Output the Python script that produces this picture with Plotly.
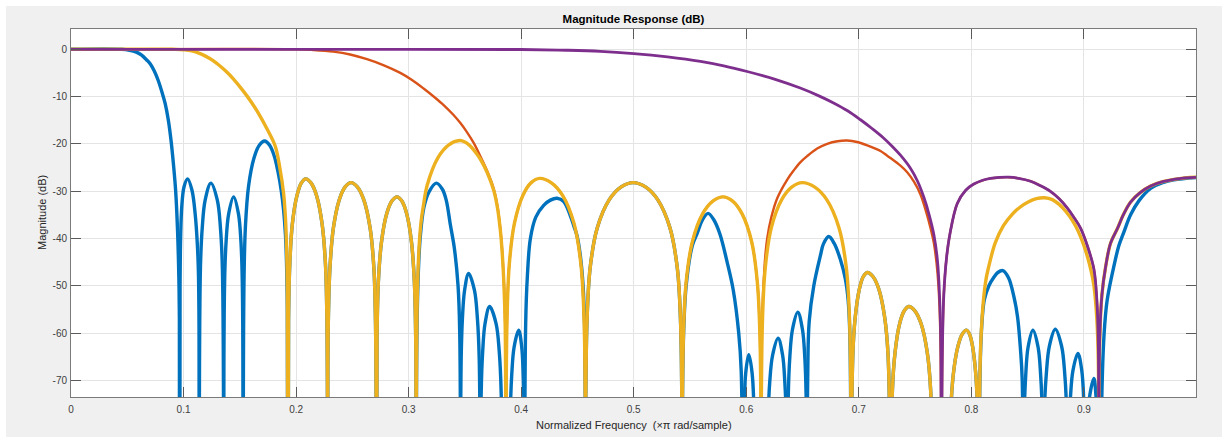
import plotly.graph_objects as go

# ---------------- data (frequency in x pi rad/sample, magnitude in dB) -------------
NULL = -120  # value used at the exact zeros (below the visible range)

purple_main = [(0, 0), (0.3, 0), (0.4, -0.05), (0.44, -0.2), (0.4704, -0.43), (0.5, -0.9), (0.53, -1.6),
               (0.5593, -2.55), (0.58, -3.5), (0.6008, -4.7), (0.625, -6.3), (0.648, -8.2), (0.665, -9.9),
               (0.678, -11.4), (0.69, -13.0), (0.7015, -14.9), (0.712, -16.8), (0.7222, -18.8), (0.73, -20.6),
               (0.737, -22.4), (0.746, -25.2), (0.752, -27.8), (0.7578, -31.3), (0.7625, -35), (0.7667, -39.2),
               (0.77, -45), (0.7722, -55), (0.773, -65), (0.7735, NULL)]
purple_lobe = [(0.7742, -65), (0.7755, -52), (0.778, -44), (0.781, -39), (0.7875, -32.6), (0.795, -29.8),
               (0.8022, -28.5), (0.81, -27.7), (0.817, -27.3), (0.825, -27.1), (0.8333, -27.05), (0.842, -27.3),
               (0.8526, -27.9), (0.861, -28.8), (0.87, -30.0), (0.878, -31.6), (0.885, -33.5), (0.891, -35.5),
               (0.897, -37.8), (0.903, -41.5), (0.9089, -46.5), (0.9115, -53), (0.9128, -62), (0.9133, NULL)]
purple_end = [(0.914, -62), (0.916, -52), (0.9193, -46), (0.9237, -41), (0.93, -37.8), (0.935, -35),
              (0.9415, -32.3), (0.95, -30.3), (0.9593, -28.9), (0.97, -28.0), (0.98, -27.5), (0.99, -27.2),
              (0.9996, -27.07)]

red_main = [(0, 0), (0.2, 0), (0.215, -0.15), (0.233, -0.5), (0.248, -1.1), (0.263, -2.1), (0.278, -3.4),
            (0.2926, -5), (0.303, -6.5), (0.3133, -8.3), (0.3233, -10.2), (0.3311, -11.8), (0.3395, -13.8),
            (0.346, -15.6), (0.3515, -17.4), (0.3578, -19.8), (0.3637, -22.6), (0.3697, -25.7), (0.3756, -29.5),
            (0.379, -33.3), (0.3815, -38), (0.383, -42.2), (0.3848, -50.2), (0.3858, -58.2), (0.3865, NULL)]
red_lobe = [(0.6142, -56), (0.6165, -45), (0.6186, -40), (0.6223, -35.5), (0.6275, -31.5), (0.6363, -27.6),
            (0.6422, -25.6), (0.648, -23.9), (0.6541, -22.6), (0.663, -21.0), (0.6719, -20.0), (0.681, -19.45),
            (0.6897, -19.3), (0.6985, -19.6), (0.7075, -20.3), (0.7193, -21.5), (0.7252, -22.5), (0.7282, -23),
            (0.737, -24.6), (0.743, -26.0), (0.749, -28), (0.7548, -30.7), (0.76, -34.5), (0.7637, -37.8),
            (0.7667, -41), (0.77, -47.5), (0.7722, -58), (0.7735, NULL)]

yellow_main = [(0, 0), (0.09, 0), (0.1, -0.1), (0.11, -0.5), (0.1237, -2.0), (0.1297, -3.0), (0.1375, -4.6),
               (0.1444, -6.3), (0.1533, -8.9), (0.16, -11.1), (0.1667, -13.6), (0.1741, -16.8), (0.1815, -20.5),
               (0.1855, -25), (0.1889, -30.5), (0.1905, -35.5), (0.1913, -40), (0.1922, -50), (0.1928, NULL)]
yellow_low_lobes = [(0.1933, -57.4), (0.1944, -45.4), (0.1967, -36.9), (0.2007, -31.0), (0.2046, -28.3),
                    (0.2085, -27.4), (0.2134, -28.3), (0.2183, -31.0), (0.2231, -36.9), (0.2261, -45.4),
                    (0.2274, -57.4), (0.228, NULL),
                    (0.2286, -58.2), (0.2301, -46.2), (0.2332, -37.7), (0.2384, -31.8), (0.2436, -29.1),
                    (0.2488, -28.2), (0.2544, -29.1), (0.2601, -31.8), (0.2657, -37.7), (0.2691, -46.2),
                    (0.2706, -58.2), (0.2713, NULL),
                    (0.2719, -61.2), (0.2731, -49.2), (0.2759, -40.7), (0.2805, -34.8), (0.2851, -32.1),
                    (0.2897, -31.2), (0.294, -32.1), (0.2983, -34.8), (0.3025, -40.7), (0.3051, -49.2),
                    (0.3063, -61.2), (0.3068, NULL)]
yellow_lobe4 = [(0.308, -49.3), (0.3107, -37.3), (0.3135, -32.5), (0.3164, -28.8), (0.3261, -22.9),
                (0.3357, -20.2), (0.3453, -19.3), (0.35, -19.6), (0.355, -20.5), (0.3595, -21.8), (0.3637, -23.2),
                (0.3697, -26), (0.3756, -29.8), (0.379, -33.6), (0.3815, -38.3), (0.383, -42.5), (0.3848, -50.5),
                (0.3858, -58.5), (0.3865, NULL)]
yellow_lobe5 = [(0.3874, -57.3), (0.3895, -45.3), (0.394, -36.8), (0.4015, -30.9), (0.4089, -28.2),
                (0.4164, -27.3), (0.4266, -28.2), (0.4368, -30.9), (0.4469, -36.8), (0.453, -45.3),
                (0.4559, -57.3), (0.4571, NULL)]
yellow_lobe6 = [(0.4584, -58.2), (0.4613, -46.2), (0.4677, -37.7), (0.4783, -31.8), (0.4889, -29.1),
                (0.4995, -28.2), (0.5104, -29.1), (0.5213, -31.8), (0.5321, -37.7), (0.5387, -46.2),
                (0.5417, -58.2), (0.543, NULL)]
yellow_lobe7 = [(0.5441, -61.2), (0.5466, -49.2), (0.5521, -40.7), (0.5612, -34.8), (0.5703, -32.1),
                (0.5794, -31.2), (0.5879, -32.1), (0.5963, -34.8), (0.6048, -40.7), (0.6098, -49.2),
                (0.6122, -61.2), (0.6132, NULL)]
yellow_lobe8 = [(0.6143, -58.2), (0.6169, -46.2), (0.6223, -37.7), (0.6315, -31.8), (0.6406, -29.1),
                (0.6497, -28.2), (0.6606, -29.1), (0.6715, -31.8), (0.6823, -37.7), (0.6889, -46.2),
                (0.6919, -58.2), (0.6932, NULL)]
yellow_high_lobes = [(0.6946, -65.2), (0.6968, -56.7), (0.7004, -50.8), (0.7039, -48.1), (0.7075, -47.2),
                     (0.7127, -48.1), (0.7179, -50.8), (0.723, -56.7), (0.7261, -65.2), (0.7282, NULL),
                     (0.7298, -72.4), (0.7323, -63.9), (0.7363, -58.0), (0.7404, -55.3), (0.7444, -54.4),
                     (0.7498, -55.3), (0.7553, -58.0), (0.7607, -63.9), (0.7639, -72.4), (0.7661, NULL),
                     (0.78, NULL),
                     (0.7816, -77.4), (0.7839, -68.9), (0.7879, -63.0), (0.7918, -60.3), (0.7957, -59.4),
                     (0.7985, -60.3), (0.8012, -63.0), (0.804, -68.9), (0.8056, -77.4), (0.8067, NULL)]
yellow_lobe12 = [(0.8085, -61.4), (0.8125, -49.4), (0.8156, -45.8), (0.8213, -40.9), (0.8285, -37.3),
                 (0.8359, -35.0), (0.8432, -33.4), (0.8505, -32.3), (0.8578, -31.6), (0.8651, -31.4),
                 (0.872, -31.8), (0.878, -32.8), (0.884, -34.3), (0.89, -36.3), (0.895, -38.5), (0.9, -41.5),
                 (0.905, -45.5), (0.9089, -50), (0.9115, -57), (0.9128, -66), (0.9133, NULL)]

blue_main = [(0, 0), (0.045, 0), (0.052, -0.2), (0.058, -0.6), (0.0625, -1.2), (0.067, -2.2), (0.0705, -3.1),
             (0.074, -4.6), (0.0775, -6.6), (0.081, -9.2), (0.0837, -11.5), (0.0865, -15), (0.089, -19.5),
             (0.0911, -24.5), (0.093, -30), (0.0947, -38.5), (0.0958, -48), (0.0963, -57), (0.0965, NULL)]
blue_low_lobes = [(0.0969, -50), (0.0974, -40), (0.0985, -33), (0.1005, -29), (0.1036, -27.4), (0.1075, -29.8),
                  (0.1104, -35), (0.1122, -41), (0.1133, -48), (0.114, NULL),
                  (0.115, -46.3), (0.1166, -37.8), (0.1192, -31.9), (0.1243, -28.3), (0.13, -31.9),
                  (0.1328, -37.8), (0.1345, -46.3), (0.1356, NULL),
                  (0.1365, -49.2), (0.1378, -40.7), (0.1401, -34.8), (0.1445, -31.2), (0.1488, -34.8),
                  (0.151, -40.7), (0.1522, -49.2), (0.1531, NULL),
                  (0.1537, -49.4), (0.155, -37.4), (0.1578, -28.9), (0.1626, -23.0), (0.1673, -20.3),
                  (0.172, -19.4), (0.1765, -20.3), (0.1805, -22.5), (0.184, -26), (0.1869, -30), (0.1889, -34),
                  (0.1905, -39), (0.1915, -45), (0.1922, -55), (0.1928, NULL)]
blue_mid_lobes = [(0.3074, -60), (0.3088, -46), (0.3104, -39.5), (0.3135, -33.5), (0.318, -30.2),
                  (0.3246, -28.3), (0.33, -29.6), (0.3335, -32), (0.337, -37), (0.3406, -42), (0.3439, -50),
                  (0.3454, -60), (0.346, NULL),
                  (0.3467, -65.4), (0.3478, -56.9), (0.3497, -51.0), (0.3533, -47.4), (0.3585, -51.0),
                  (0.3611, -56.9), (0.3627, -65.4), (0.3637, NULL),
                  (0.3645, -72.4), (0.3658, -63.9), (0.3679, -58.0), (0.372, -54.4), (0.3777, -58.0),
                  (0.3805, -63.9), (0.3822, -72.4), (0.3833, NULL), (0.3895, NULL),
                  (0.3903, -77.4), (0.3916, -68.9), (0.3937, -63.0), (0.3978, -59.4), (0.4005, -63.0),
                  (0.4018, -68.9), (0.4026, -77.4), (0.4031, NULL),
                  (0.404, -58), (0.4055, -48), (0.4082, -40), (0.413, -35.5), (0.42, -33), (0.426, -31.9),
                  (0.4319, -31.5), (0.4378, -32.2), (0.4437, -35.2), (0.447, -37.5), (0.4497, -39.5),
                  (0.4525, -43.5), (0.455, -50), (0.4563, -58), (0.4571, NULL)]
blue_upper_lobes = [(0.5441, -62), (0.5466, -50), (0.5521, -41.5), (0.5563, -39), (0.5612, -36), (0.5661, -34.7),
                    (0.571, -36), (0.5765, -39), (0.583, -45), (0.5885, -51), (0.5933, -60), (0.5955, -68),
                    (0.5969, NULL),
                    (0.5978, -80), (0.5995, -68.5), (0.6022, -64.6), (0.6052, -68.5), (0.6072, -80),
                    (0.6082, NULL), (0.6185, NULL),
                    (0.6195, -78), (0.6208, -70.6), (0.6234, -64.7), (0.6283, -61.1), (0.6323, -64.7),
                    (0.6343, -70.6), (0.6355, -78), (0.6363, NULL),
                    (0.6373, -73.6), (0.6387, -65.1), (0.6411, -59.2), (0.6458, -55.6), (0.6499, -59.2),
                    (0.652, -65.1), (0.6532, -73.6), (0.654, NULL),
                    (0.6546, -69.6), (0.6559, -57.6), (0.66, -50), (0.666, -43.5), (0.6685, -41.2),
                    (0.6733, -39.6), (0.678, -41), (0.6837, -44.5), (0.688, -48.5), (0.6905, -53), (0.692, -60),
                    (0.6932, NULL)]
blue_top_lobes = [(0.8085, -62), (0.8115, -53), (0.8156, -50), (0.82, -48.2), (0.8235, -47.2), (0.828, -46.8),
                  (0.833, -48.3), (0.8378, -52.3), (0.841, -56.5), (0.8437, -63.6), (0.8452, -70), (0.8461, NULL),
                  (0.847, -77), (0.8483, -69), (0.8504, -63), (0.8547, -59.4), (0.8593, -63), (0.8616, -69),
                  (0.863, -77), (0.8639, NULL),
                  (0.8648, -77), (0.8666, -68.7), (0.8693, -62.8), (0.8746, -59.2), (0.8802, -62.8),
                  (0.883, -68.7), (0.8847, -77), (0.8858, NULL),
                  (0.8867, -82), (0.888, -73.8), (0.8903, -67.9), (0.8947, -64.3), (0.8981, -67.9),
                  (0.8998, -73.8), (0.9008, -82), (0.9015, NULL),
                  (0.9033, -79), (0.9052, -73.2), (0.9089, -69.6), (0.9107, -73.2), (0.9116, -79),
                  (0.9125, NULL), (0.915, NULL)]
blue_end = [(0.9158, -75), (0.918, -60), (0.9207, -53), (0.927, -45.5), (0.9311, -41.5), (0.9356, -38.6),
            (0.9415, -35), (0.949, -32), (0.9593, -29.4), (0.97, -28.2), (0.98, -27.6), (0.9996, -27.1)]

x_ticks = [0, 0.1, 0.2, 0.3, 0.4, 0.5, 0.6, 0.7, 0.8, 0.9]
x_tick_labels = ["0", "0.1", "0.2", "0.3", "0.4", "0.5", "0.6", "0.7", "0.8", "0.9"]
y_ticks = [0, -10, -20, -30, -40, -50, -60, -70]
y_tick_labels = ["0", "-10", "-20", "-30", "-40", "-50", "-60", "-70"]

# ---------------- assemble the four cascaded responses -------------
def join(*segments):
    """Concatenate the read points; every zero (NULL) closes one lobe and opens the next, so that each
    lobe is smoothed on its own and the curve drops straight into the zero."""
    xs, ys = [], []
    for seg in segments:
        for f, d in seg:
            xs.append(f)
            ys.append(d)
            if d == NULL:
                xs.extend([None, f])
                ys.extend([None, d])
    return xs, ys

blue = join(blue_main, blue_low_lobes, yellow_low_lobes, blue_mid_lobes, yellow_lobe6, blue_upper_lobes,
            yellow_high_lobes, blue_top_lobes, blue_end)
red = join(red_main, yellow_lobe5, yellow_lobe6, yellow_lobe7, red_lobe, purple_lobe, purple_end)
yellow = join(yellow_main, yellow_low_lobes, yellow_lobe4, yellow_lobe5, yellow_lobe6, yellow_lobe7,
              yellow_lobe8, yellow_high_lobes, yellow_lobe12, purple_end)
purple = join(purple_main, purple_lobe, purple_end)

series = [
    (blue, "#0072BD", 3.4),
    (red, "#D95319", 2.4),
    (yellow, "#EDB120", 3.4),
    (purple, "#7E2F8E", 2.8),
]

fig = go.Figure()
for (xs, ys), color, width in series:
    fig.add_trace(go.Scatter(x=xs, y=ys, mode="lines", connectgaps=False,
                             line=dict(color=color, width=width, shape="spline", smoothing=1.0),
                             hoverinfo="skip", showlegend=False))

FONT = "Liberation Sans, Arial, Helvetica, sans-serif"
axis_common = dict(showgrid=True, gridcolor="#e4e4e4", gridwidth=1, zeroline=False,
                   showline=True, linecolor="#7a7a7a", linewidth=1, mirror="ticks",
                   ticks="inside", ticklen=10, tickwidth=1, tickcolor="#5a5a5a",
                   tickfont=dict(family=FONT, size=10, color="#404040"))

# page margin of 6 px (white band at the top and left), figure fills the rest of the 1228x437 window
W, H = 1222, 431
fig.update_layout(
    width=W, height=H, autosize=False,
    paper_bgcolor="#f0f0f0", plot_bgcolor="#ffffff",
    margin=dict(l=65, r=32, t=23, b=40, autoexpand=False),
    title=dict(text="<b>Magnitude Response (dB)</b>", x=0.5, xref="paper", xanchor="center",
               y=1 - 13 / H, yanchor="middle", font=dict(family=FONT, size=11.5, color="#000000")),
    xaxis=dict(range=[0, 0.99961], tickvals=x_ticks, ticktext=x_tick_labels, ticklabelstandoff=3,
               **axis_common),
    yaxis=dict(range=[-73.53, 4.29], tickvals=y_ticks, ticktext=y_tick_labels, ticklabelstandoff=1,
               **axis_common),
    annotations=[
        dict(text="Normalized Frequency  (\u00d7\u03c0 rad/sample)", xref="paper", yref="paper",
             x=0.5, y=(368 - 28) / 368 - 1, xanchor="center", yanchor="middle", showarrow=False,
             font=dict(family=FONT, size=11, color="#262626")),
        dict(text="Magnitude (dB)", xref="paper", yref="paper", textangle=-90,
             x=(42 - 71) / 1125, y=0.5, xanchor="center", yanchor="middle", showarrow=False,
             font=dict(family=FONT, size=11, color="#262626")),
    ],
)

fig.write_html("out.html", post_script="document.body.style.margin='6px';")
